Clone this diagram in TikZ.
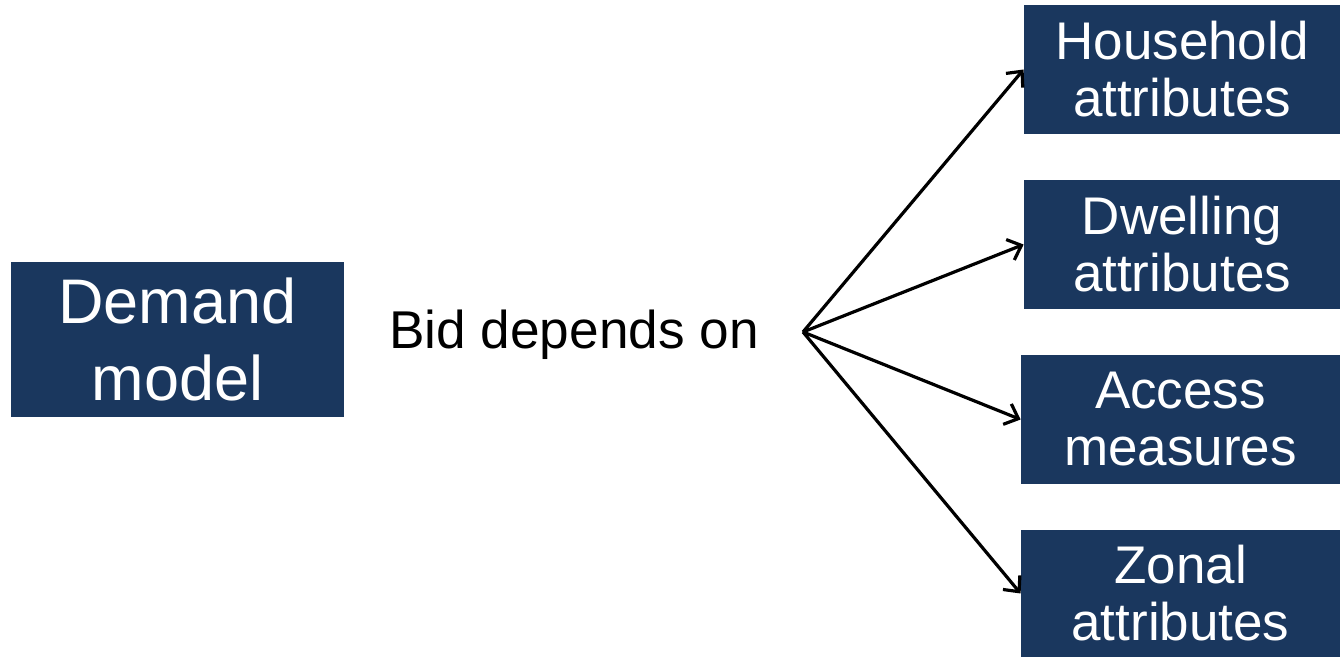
\documentclass[tikz,border=0pt]{standalone}
\usepackage{fontspec}
\setmainfont{Liberation Sans}
\usetikzlibrary{arrows.meta,positioning}
\definecolor{modelnavy}{HTML}{1A375E}

\begin{document}
\begin{tikzpicture}[x=0.5pt, y=-0.5pt,
    attrbox/.style={fill=modelnavy, text=white, align=center, inner sep=0pt,
      minimum width=158pt, minimum height=64.5pt,
      font=\fontsize{26.5}{28.5}\selectfont},
    bidarrow/.style={-{Straight Barb[length=6pt,width=11pt]}, line width=1.6pt}]
  \useasboundingbox (0,0) rectangle (1340,657);

  % left box and the label beside it
  \node[fill=modelnavy, text=white, align=center, inner sep=0pt,
    minimum width=166.5pt, minimum height=77.5pt,
    font=\fontsize{31.5}{38.5}\selectfont] (demand) at (177.5,339.5) {Demand\\model};
  \node[font=\fontsize{26.6}{30}\selectfont] (bid) at (574,335) {Bid depends on};
  \coordinate (hub) at (803,332);

  % attribute boxes on the right
  \node[attrbox] (household) at (1182,69.5) {Household\\attributes};
  \node[attrbox] (dwelling) at (1182,244.5) {Dwelling\\attributes};
  \node[attrbox, minimum width=159.5pt] (access) at (1180.5,419.5) {Access\\measures};
  \node[attrbox, minimum width=159.5pt, minimum height=63.5pt] (zonal) at (1180.5,593.5) {Zonal\\attributes};

  \foreach \target in {household,dwelling,access,zonal}
    \draw[bidarrow] (hub) -- (\target.west);
\end{tikzpicture}
\end{document}
